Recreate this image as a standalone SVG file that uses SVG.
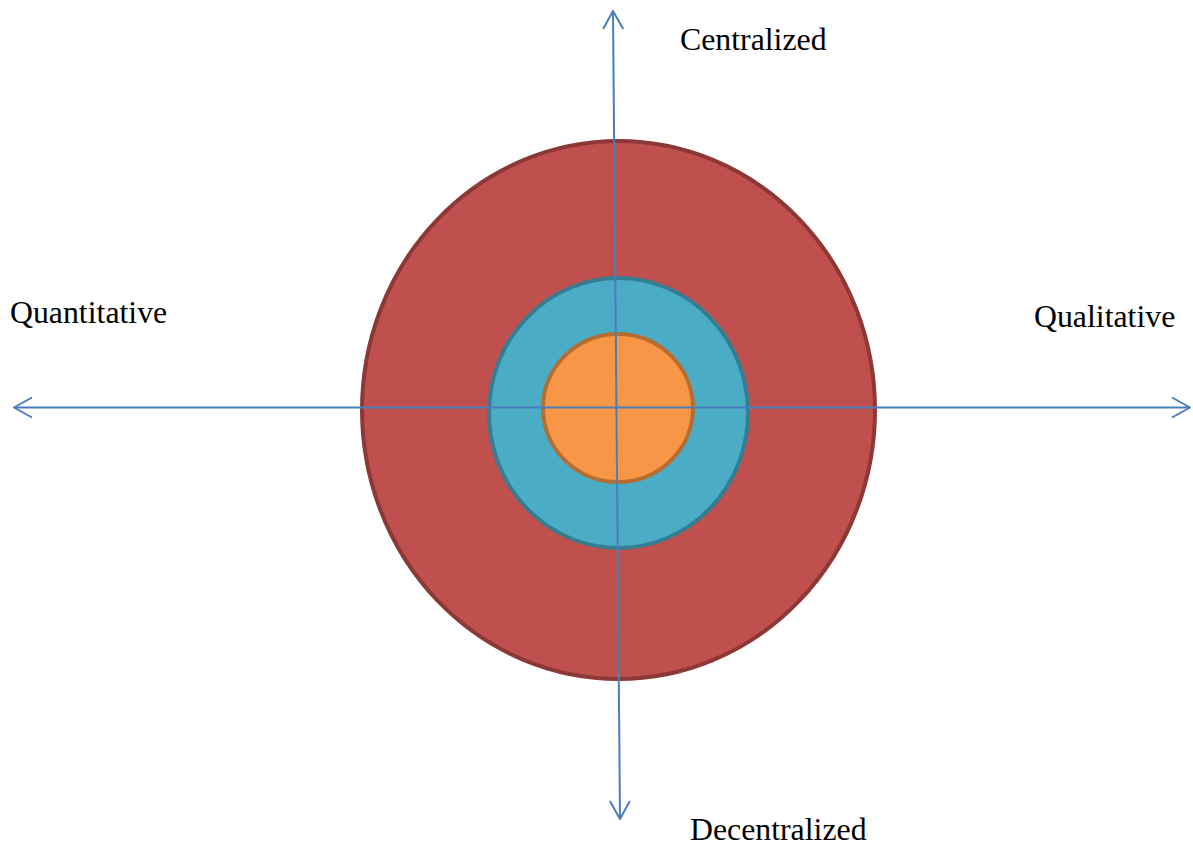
<svg xmlns="http://www.w3.org/2000/svg" width="1193" height="848" viewBox="0 0 1193 848">
  <style>
    .lbl { font-family: "Liberation Serif", "Times New Roman", serif; font-size: 31.8px; fill: #000; }
    .axis { fill: none; stroke: #4a7ebb; stroke-width: 2; }
  </style>
  <defs>
    <marker id="open-arrow" viewBox="0 0 20 24" refX="19" refY="12" markerWidth="20" markerHeight="24" markerUnits="userSpaceOnUse" orient="auto-start-reverse">
      <path d="M1,2 L19,12 L1,22" fill="none" stroke="#4a7ebb" stroke-width="2"/>
    </marker>
  </defs>
  <rect width="1193" height="848" fill="#fff"/>

  <g id="outer-ring">
    <ellipse cx="618.5" cy="410" rx="256.5" ry="269" fill="#c0504d" stroke="#8c3836" stroke-width="4"/>
  </g>
  <g id="middle-ring">
    <ellipse cx="618.5" cy="413" rx="129.5" ry="135" fill="#4bacc6" stroke="#357d91" stroke-width="4"/>
  </g>
  <g id="core">
    <ellipse cx="618" cy="408" rx="75" ry="74" fill="#f79646" stroke="#b66d31" stroke-width="4"/>
  </g>

  <g id="connectors">
    <line class="axis" x1="613" y1="11" x2="620" y2="819" marker-start="url(#open-arrow)" marker-end="url(#open-arrow)"/>
    <line class="axis" x1="14" y1="407.5" x2="1190" y2="407.5" marker-start="url(#open-arrow)" marker-end="url(#open-arrow)"/>
  </g>

  <g id="labels">
    <text class="lbl" x="680" y="50">Centralized</text>
    <text class="lbl" x="10" y="323">Quantitative</text>
    <text class="lbl" x="1034" y="327">Qualitative</text>
    <text class="lbl" x="690" y="840">Decentralized</text>
  </g>
</svg>
